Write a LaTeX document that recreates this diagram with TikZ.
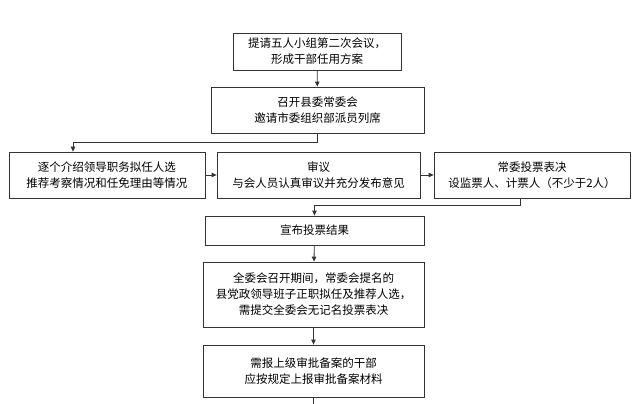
\documentclass[tikz,border=0pt]{standalone}
\usepackage{fontspec}
\newfontfamily\cjk{Noto Sans CJK SC}
\usetikzlibrary{arrows.meta}
\begin{document}
\begin{tikzpicture}[x=1pt,y=-1pt,
 box/.style={draw=black!80,line width=0.8pt,inner sep=0pt,align=center,font=\cjk\fontsize{11.5}{16}\selectfont},
 arr/.style={draw=black!80,line width=0.8pt,-{Triangle[length=5pt,width=4.5pt]}}]
\useasboundingbox[fill=white] (0,0) rectangle (640,404);
\node[box,minimum width=168,minimum height=37] (b1) at (317,51.5) {提请五人小组第二次会议，\\形成干部任用方案};
\node[box,minimum width=213,minimum height=46] (b2) at (317.5,110) {召开县委常委会\\邀请市委组织部派员列席};
\node[box,minimum width=196,minimum height=46] (b3) at (107,175) {逐个介绍领导职务拟任人选\\推荐考察情况和任免理由等情况};
\node[box,minimum width=203,minimum height=46] (b4) at (318.5,175) {审议\\与会人员认真审议并充分发布意见};
\node[box,minimum width=196,minimum height=46] (b5) at (532,175) {常委投票表决\\设监票人、计票人（不少于2人）};
\node[box,minimum width=219,minimum height=29] (b6) at (314.5,230.5) {宣布投票结果};
\node[box,minimum width=221,minimum height=65] (b7) at (313.5,294.5) {全委会召开期间，常委会提名的\\县党政领导班子正职拟任及推荐人选，\\需提交全委会无记名投票表决};
\node[box,minimum width=221,minimum height=52] (b8) at (313.5,371) {需报上级审批备案的干部\\应按规定上报审批备案材料};
\coordinate (end) at (313.5,404);
\draw[arr] (b1) -- (b2);
\draw[arr] (b2.south) -- ++(0,9) -| (b3.north-|73,0);
\draw[arr] (b3) -- (b4);
\draw[arr] (b4) -- (b5);
\draw[arr] (b5.south-|520,0) -- ++(0,7) -| (b6.north);
\draw[arr] (b6) -- (b7);
\draw[arr] (b7) -- (b8);
\draw[draw=black!80,line width=0.8pt] (b8.south) -- (end);
\end{tikzpicture}
\end{document}
